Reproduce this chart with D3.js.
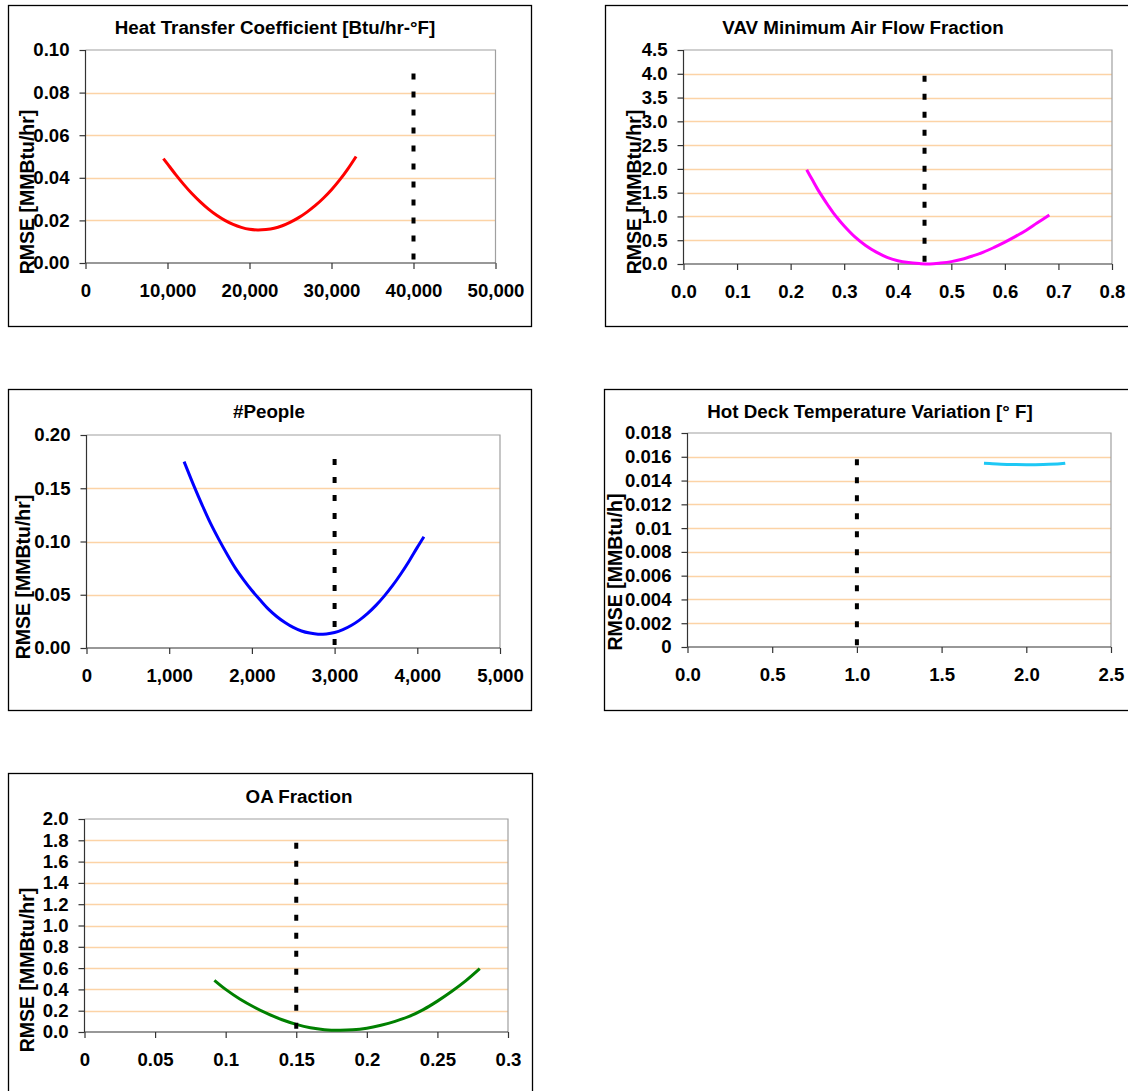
<!DOCTYPE html>
<html><head><meta charset="utf-8">
<script src="https://cdn.jsdelivr.net/npm/d3@7"></script>
<style>
body{margin:0;background:#fff;}
svg text{font-family:"Liberation Sans",Arial,sans-serif;font-weight:bold;fill:#000;}
</style></head>
<body>
<svg id="c" width="1128" height="1091"></svg>
<script>
// ---------- DATA ----------
const titles = ["Heat Transfer Coefficient [Btu/hr-°F]","VAV Minimum Air Flow Fraction","#People","Hot Deck Temperature Variation [° F]","OA Fraction"];
const yLabels = ["RMSE [MMBtu/hr]","RMSE [MMBtu/hr]","RMSE [MMBtu/hr]","RMSE [MMBtu/h]","RMSE [MMBtu/hr]"];

const heatX = [9500,10000,11000,12000,13000,14000,15000,16000,17000,18000,19000,20000,21000,22000,23000,24000,25000,26000,27000,28000,29000,30000,31000,32000,33000];
const heatY = [0.049,0.0465,0.0415,0.0368,0.0325,0.0287,0.0253,0.0224,0.0200,0.0181,0.0167,0.0158,0.0155,0.0157,0.0163,0.0175,0.0192,0.0213,0.0239,0.0269,0.0304,0.0344,0.0390,0.0442,0.0500];

const vavX = [0.23,0.24,0.25,0.26,0.27,0.28,0.29,0.30,0.32,0.34,0.36,0.38,0.40,0.42,0.44,0.46,0.48,0.50,0.52,0.54,0.56,0.58,0.60,0.62,0.64,0.66,0.683];
const vavY = [1.98,1.78,1.58,1.40,1.23,1.07,0.93,0.80,0.57,0.39,0.25,0.14,0.07,0.03,0.01,0.00,0.02,0.05,0.10,0.17,0.25,0.35,0.46,0.58,0.71,0.86,1.03];

const peopleX = [1180,1300,1400,1500,1600,1700,1800,1900,2000,2100,2200,2300,2400,2500,2600,2700,2800,2900,3000,3100,3200,3300,3400,3500,3600,3700,3800,3900,4000,4080];
const peopleY = [0.175,0.152,0.134,0.117,0.102,0.088,0.075,0.064,0.054,0.045,0.0365,0.0296,0.0239,0.0193,0.0160,0.0140,0.0129,0.0132,0.0145,0.0172,0.0211,0.0262,0.0325,0.0400,0.0487,0.0585,0.0695,0.0815,0.0945,0.1045];

const hotX = [1.75,1.80,1.90,2.00,2.10,2.20,2.23];
const hotY = [0.01545,0.01542,0.01536,0.01533,0.01535,0.01541,0.01546];

const oaX = [0.092,0.10,0.11,0.12,0.13,0.14,0.15,0.16,0.17,0.18,0.19,0.20,0.21,0.22,0.23,0.24,0.25,0.26,0.27,0.28];
const oaY = [0.485,0.40,0.31,0.235,0.17,0.115,0.072,0.040,0.022,0.016,0.020,0.036,0.064,0.100,0.146,0.210,0.290,0.380,0.480,0.595];

// reference (base case) lines: x, top y
const refX = [40000,0.45,3000,1.0,0.15];
const refTop = [0.089,3.96,0.1775,0.0158,1.777];

// axis ticks
const heatXTicks = [0,10000,20000,30000,40000,50000];
const heatXLabels = ["0","10,000","20,000","30,000","40,000","50,000"];
const heatYTicks = [0,0.02,0.04,0.06,0.08,0.10];
const heatYLabels = ["0.00","0.02","0.04","0.06","0.08","0.10"];

const vavXTicks = [0,0.1,0.2,0.3,0.4,0.5,0.6,0.7,0.8];
const vavXLabels = ["0.0","0.1","0.2","0.3","0.4","0.5","0.6","0.7","0.8"];
const vavYTicks = [0,0.5,1,1.5,2,2.5,3,3.5,4,4.5];
const vavYLabels = ["0.0","0.5","1.0","1.5","2.0","2.5","3.0","3.5","4.0","4.5"];

const peopleXTicks = [0,1000,2000,3000,4000,5000];
const peopleXLabels = ["0","1,000","2,000","3,000","4,000","5,000"];
const peopleYTicks = [0,0.05,0.10,0.15,0.20];
const peopleYLabels = ["0.00","0.05","0.10","0.15","0.20"];

const hotXTicks = [0,0.5,1,1.5,2,2.5];
const hotXLabels = ["0.0","0.5","1.0","1.5","2.0","2.5"];
const hotYTicks = [0,0.002,0.004,0.006,0.008,0.010,0.012,0.014,0.016,0.018];
const hotYLabels = ["0","0.002","0.004","0.006","0.008","0.01","0.012","0.014","0.016","0.018"];

const oaXTicks = [0,0.05,0.1,0.15,0.2,0.25,0.3];
const oaXLabels = ["0","0.05","0.1","0.15","0.2","0.25","0.3"];
const oaYTicks = [0,0.2,0.4,0.6,0.8,1.0,1.2,1.4,1.6,1.8,2.0];
const oaYLabels = ["0.0","0.2","0.4","0.6","0.8","1.0","1.2","1.4","1.6","1.8","2.0"];

// ---------- LAYOUT / STYLE ----------
const layout = [
  {frame:[8.5,5.5,523,321], plot:[85.5,495.5,50,263], title:[275,34], ylab:[27,192], color:"#FF0000"},
  {frame:[605.5,5.5,530,321], plot:[683.5,1112,50,264], title:[863,34], ylab:[634,192], color:"#FF00FF"},
  {frame:[8.5,389.5,523,321], plot:[86.5,500,435,648], title:[269,418], ylab:[23,577], color:"#0000FF"},
  {frame:[604.5,389.5,530,321], plot:[687.5,1111,433,647], title:[870,418], ylab:[615,572], color:"#1EC8F5"},
  {frame:[8.5,773.5,524,330], plot:[84.5,508,819,1032], title:[299,803], ylab:[27,970], color:"#008000"}
];
const series = [
  {x:heatX,y:heatY,xt:heatXTicks,xl:heatXLabels,yt:heatYTicks,yl:heatYLabels},
  {x:vavX,y:vavY,xt:vavXTicks,xl:vavXLabels,yt:vavYTicks,yl:vavYLabels},
  {x:peopleX,y:peopleY,xt:peopleXTicks,xl:peopleXLabels,yt:peopleYTicks,yl:peopleYLabels},
  {x:hotX,y:hotY,xt:hotXTicks,xl:hotXLabels,yt:hotYTicks,yl:hotYLabels},
  {x:oaX,y:oaY,xt:oaXTicks,xl:oaXLabels,yt:oaYTicks,yl:oaYLabels}
];

const svg = d3.select("#c");

series.forEach((s,i)=>{
  const L = layout[i];
  const g = svg.append("g");
  g.append("rect").attr("x",L.frame[0]).attr("y",L.frame[1]).attr("width",L.frame[2]).attr("height",L.frame[3])
    .attr("fill","#fff").attr("stroke","#000").attr("stroke-width",1.3);
  const [l,r,t,b] = L.plot;
  const x = d3.scaleLinear().domain([s.xt[0], s.xt[s.xt.length-1]]).range([l,r]);
  const y = d3.scaleLinear().domain([s.yt[0], s.yt[s.yt.length-1]]).range([b,t]);
  g.selectAll(".grid").data(s.yt.slice(1,-1)).enter().append("line")
    .attr("x1",l).attr("x2",r).attr("y1",d=>Math.round(y(d))+0.5).attr("y2",d=>Math.round(y(d))+0.5)
    .attr("stroke","#FCD3A6").attr("stroke-width",1.6);
  g.append("path").attr("d",`M${l},${t}H${r}V${b}`).attr("fill","none").attr("stroke","#A0A0A0").attr("stroke-width",1.2);
  const xa = d3.axisBottom(x).tickValues(s.xt).tickFormat((d,k)=>s.xl[k]).tickSize(6).tickPadding(15);
  const ya = d3.axisLeft(y).tickValues(s.yt).tickFormat((d,k)=>s.yl[k]).tickSize(6).tickPadding(10);
  const gx = g.append("g").attr("transform",`translate(0,${b})`).call(xa);
  const gy = g.append("g").attr("transform",`translate(${l},0)`).call(ya);
  [gx,gy].forEach(a=>{
    a.select(".domain").attr("stroke","#333").attr("stroke-width",1.2);
    a.selectAll(".tick line").attr("stroke","#333").attr("stroke-width",1.2);
    a.selectAll("text").style("font-size","18.6px").style("font-family","'Liberation Sans',Arial,sans-serif").style("font-weight","bold").attr("fill","#000");
  });
  gy.select(".domain").attr("d",`M0,${t}V${b}`);
  gx.select(".domain").attr("d",`M${l},0H${r}`);
  const pts = s.x.map((v,k)=>[v,s.y[k]]);
  g.append("path").datum(pts)
    .attr("d",d3.line().x(d=>x(d[0])).y(d=>y(d[1])).curve(d3.curveCatmullRom.alpha(0.5)))
    .attr("fill","none").attr("stroke",L.color).attr("stroke-width",3);
  g.append("line").attr("x1",x(refX[i])).attr("x2",x(refX[i])).attr("y1",y(refTop[i])).attr("y2",y(0))
    .attr("stroke","#000").attr("stroke-width",4).attr("stroke-dasharray","6,12");
  g.append("text").attr("x",L.title[0]).attr("y",L.title[1]).attr("text-anchor","middle")
    .style("font-size","18.8px").text(titles[i]);
  g.append("text").attr("transform",`translate(${L.ylab[0]},${L.ylab[1]}) rotate(-90)`)
    .attr("text-anchor","middle").attr("dominant-baseline","central")
    .style("font-size","19.5px").text(yLabels[i]);
});
</script>
</body></html>
